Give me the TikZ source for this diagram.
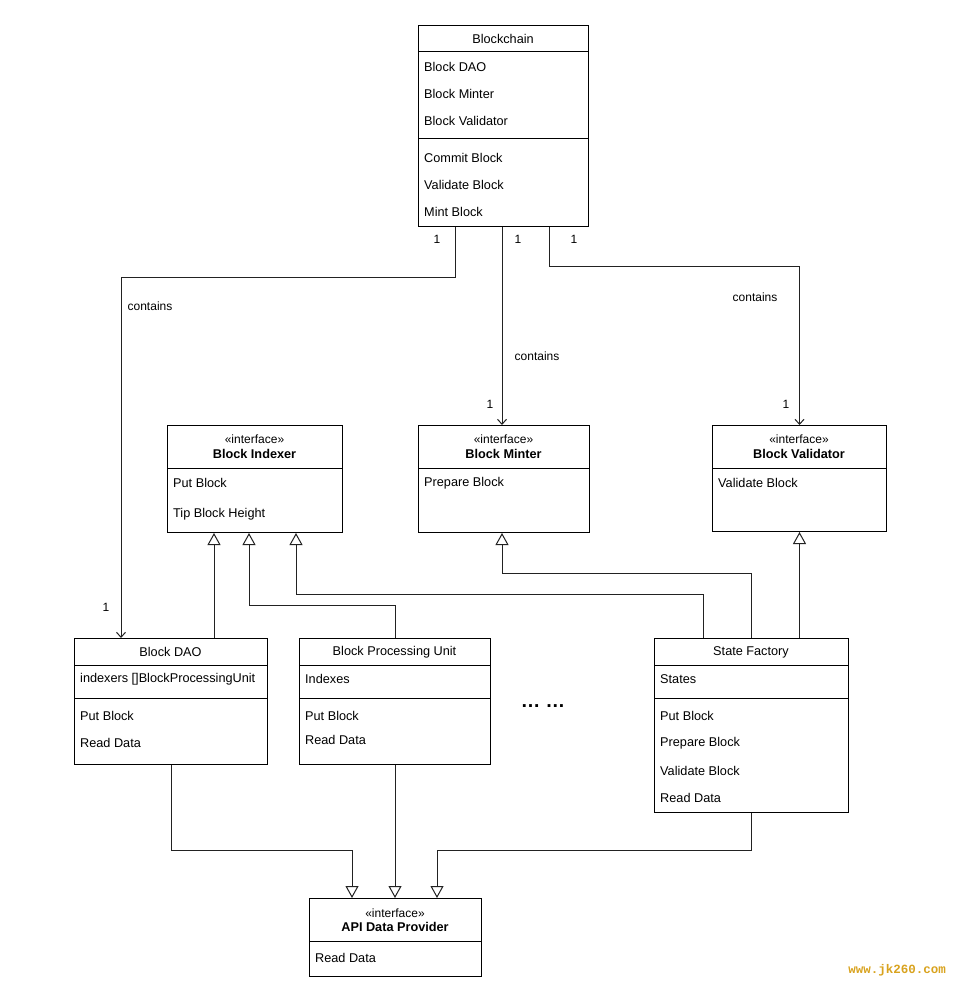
\documentclass[tikz,border=0pt]{standalone}
\usepackage{fontspec}
\setmainfont{Liberation Sans}
\newfontfamily\markfont{Liberation Mono}
\usetikzlibrary{arrows.meta,positioning,calc}
\definecolor{linegray}{HTML}{222222}
\definecolor{markgold}{HTML}{D9A31F}
\tikzset{
	umlbox/.style={draw=black, line width=1pt, rectangle, inner sep=0pt, anchor=north west},
	boxline/.style={draw=black, line width=1pt},
	title/.style={inner sep=0pt, font=\fontsize{12.7}{15}\selectfont},
	item/.style={anchor=west, inner sep=0pt, font=\fontsize{12.7}{15}\selectfont},
	stereo/.style={inner sep=0pt, font=\fontsize{12}{13}\selectfont},
	bname/.style={inner sep=0pt, font=\bfseries\fontsize{12.7}{15}\selectfont},
	mult/.style={inner sep=0pt, font=\fontsize{12}{14}\selectfont},
	contains/.style={draw=linegray, line width=1pt, -{Straight Barb[length=5pt,width=9pt]}},
	realizes/.style={draw=linegray, line width=1pt, -{Triangle[open,length=12pt,width=13pt,fill=white]}},
}
\def\sepline(#1)(#2){\draw[boxline] (#1.west |- 0,#2) -- (#1.east |- 0,#2);}

\begin{document}
\begin{tikzpicture}[x=1pt, y=-1pt]
			%%%%% START %%%%%
			\useasboundingbox[fill=white] (0,0) rectangle (960,992);
			
			% Blockchain
			\node[umlbox, minimum width=170, minimum height=201] (blockchain) at (418,25) {};
			\sepline(blockchain)(52)
			\sepline(blockchain)(139)
			\node[title] (bc-title) at (503,39) {Blockchain};
			\node[item] (bc-dao) at (424,67) {Block DAO};
			\node[item] (bc-minter) at (424,94) {Block Minter};
			\node[item] (bc-validator) at (424,121) {Block Validator};
			\node[item] (bc-commit) at (424,158) {Commit Block};
			\node[item] (bc-validate) at (424,185) {Validate Block};
			\node[item] (bc-mint) at (424,212) {Mint Block};
			
			% interfaces
			\node[umlbox, minimum width=175, minimum height=107] (indexer) at (167,425) {};
			\sepline(indexer)(468)
			\node[stereo] (ix-stereo) at (254.5,439) {«interface»};
			\node[bname] (ix-name) at (254.5,454) {Block Indexer};
			\node[item] (ix-put) at (173,483) {Put Block};
			\node[item] (ix-tip) at (173,514) {Tip Block Height};
			
			\node[umlbox, minimum width=171, minimum height=107] (minter) at (418,425) {};
			\sepline(minter)(468)
			\node[stereo] (mi-stereo) at (503.5,439) {«interface»};
			\node[bname] (mi-name) at (503.5,454) {Block Minter};
			\node[item] (mi-prepare) at (424,483) {Prepare Block};
			
			\node[umlbox, minimum width=174, minimum height=106] (validator) at (712,425) {};
			\sepline(validator)(468)
			\node[stereo] (va-stereo) at (799,439) {«interface»};
			\node[bname] (va-name) at (799,454) {Block Validator};
			\node[item] (va-validate) at (718,483) {Validate Block};
			
			% implementations
			\node[umlbox, minimum width=193, minimum height=126] (dao) at (74,638) {};
			\sepline(dao)(665)
			\sepline(dao)(698)
			\node[title] (dao-title) at (170.5,652) {Block DAO};
			\node[item] (dao-indexers) at (80,679) {indexers []BlockProcessingUnit};
			\node[item] (dao-put) at (80,716) {Put Block};
			\node[item] (dao-read) at (80,743) {Read Data};
			
			\node[umlbox, minimum width=191, minimum height=126] (bpu) at (299,638) {};
			\sepline(bpu)(665)
			\sepline(bpu)(698)
			\node[title] (bpu-title) at (394.5,652) {Block Processing Unit};
			\node[item] (bpu-indexes) at (305,679) {Indexes};
			\node[item] (bpu-put) at (305,716) {Put Block};
			\node[item] (bpu-read) at (305,740) {Read Data};
			
			\node[inner sep=0pt, font=\bfseries\fontsize{19.5}{20}\selectfont] (dots) at (543,706) {… …};
			
			\node[umlbox, minimum width=194, minimum height=174] (sf) at (654,638) {};
			\sepline(sf)(665)
			\sepline(sf)(698)
			\node[title] (sf-title) at (751,652) {State Factory};
			\node[item] (sf-states) at (660,679) {States};
			\node[item] (sf-put) at (660,716) {Put Block};
			\node[item] (sf-prepare) at (660,743) {Prepare Block};
			\node[item] (sf-validate) at (660,771) {Validate Block};
			\node[item] (sf-read) at (660,798) {Read Data};
			
			% API
			\node[umlbox, minimum width=172, minimum height=78] (api) at (309,898) {};
			\sepline(api)(941)
			\node[stereo] (api-stereo) at (395,913) {«interface»};
			\node[bname] (api-name) at (395,927) {API Data Provider};
			\node[item] (api-read) at (315,958) {Read Data};
			
			% contains
			\draw[contains] (blockchain.south -| 455,0) |- (121,277) -- (dao.north -| 121,0);
			\draw[contains] (blockchain.south -| 502,0) -- (minter.north -| 502,0);
			\draw[contains] (blockchain.south -| 549,0) -- ++(0,39) -| (validator.north);
			
			\node[mult] (m-dao-top) at (437,239) {1};
			\node[mult] (m-minter-top) at (518,239) {1};
			\node[mult] (m-validator-top) at (574,239) {1};
			\node[mult] (m-dao-end) at (106,607) {1};
			\node[mult] (m-minter-end) at (490,404) {1};
			\node[mult] (m-validator-end) at (786,404) {1};
			\node[mult] (c-dao) at (150,306) {contains};
			\node[mult] (c-minter) at (537,356) {contains};
			\node[mult] (c-validator) at (755,297) {contains};
			
			% realizes
			\draw[realizes] (dao.north -| 214,0) -- (indexer.south -| 214,0);
			\draw[realizes] (bpu.north) |- (249,605) -- (indexer.south -| 249,0);
			\draw[realizes] (sf.north -| 703,0) |- (296,594) -- (indexer.south -| 296,0);
			\draw[realizes] (sf.north) |- (502,573) -- (minter.south -| 502,0);
			\draw[realizes] (sf.north -| validator.south) -- (validator.south);
			
			\draw[realizes] (dao.south) |- (352,850) -- (api.north -| 352,0);
			\draw[realizes] (bpu.south) -- (api.north -| bpu.south);
			\draw[realizes] (sf.south) |- (437,850) -- (api.north -| 437,0);
			
			\node[inner sep=0pt, text=markgold, font=\markfont\bfseries\fontsize{12.5}{14}\selectfont] (mark) at (897,970) {www.jk260.com};
			
			%%%%% END %%%%%
\end{tikzpicture}
\end{document}
